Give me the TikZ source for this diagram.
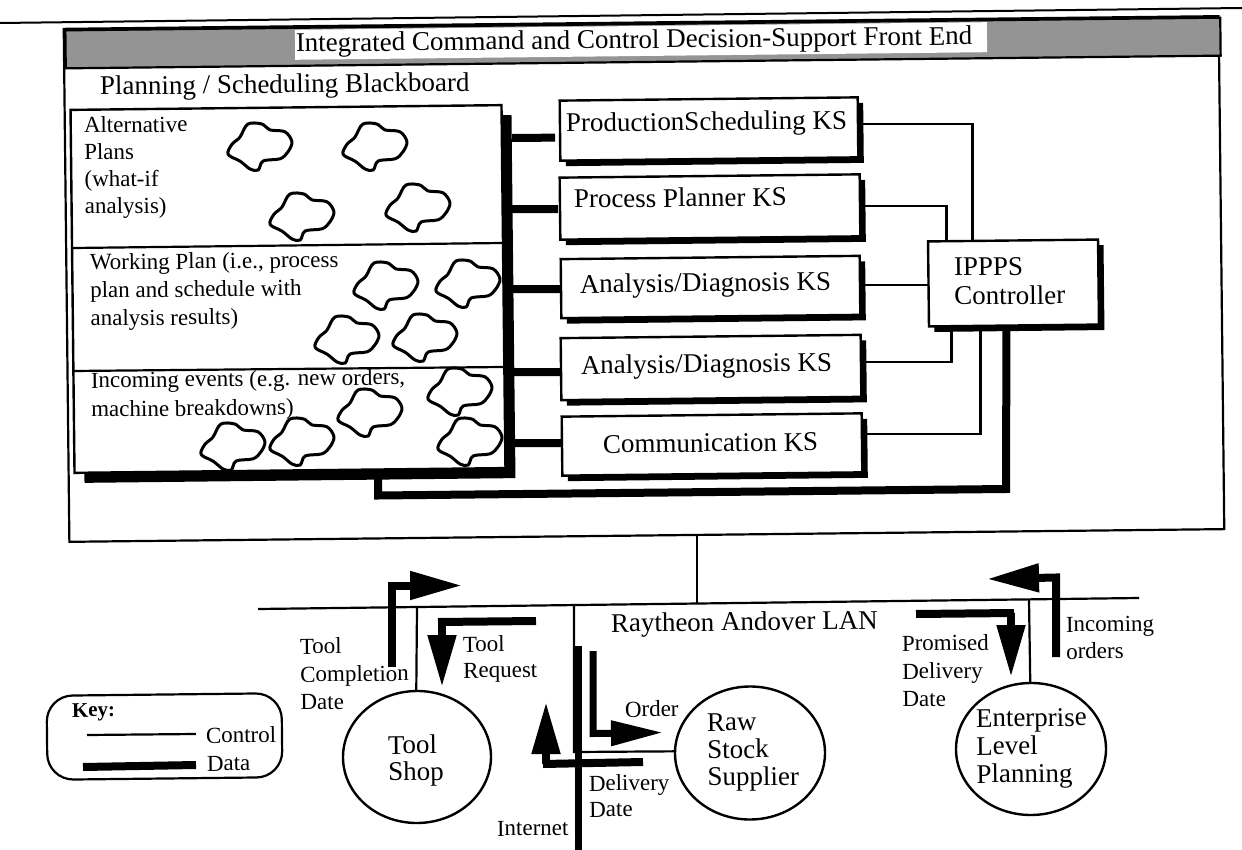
\documentclass[tikz,border=0pt]{standalone}
\usepackage{fontspec}
\setmainfont{Liberation Serif}
\usetikzlibrary{arrows.meta,shapes.geometric,shadows}
\newcommand{\linestack}[1]{\begin{tabular}[t]{@{}l@{}}#1\end{tabular}}
\tikzset{
  every node/.append style={rotate=0.63,inner sep=0pt,outer sep=0pt},
  lbl/.style={anchor=base west,font=\fontsize{23}{28}\selectfont},
  lblbig/.style={anchor=base west,font=\fontsize{27}{28}\selectfont},
  ctl/.style={line width=2.2pt,line join=miter},
  datal/.style={line width=8pt,line join=miter},
  dataarrow/.style={line width=8pt,line join=miter,-{Triangle[length=52pt,width=27pt]}},
  ksbox/.style={draw,fill=white,line width=2.4pt,
    drop shadow={shadow xshift=5.5pt,shadow yshift=-5.5pt,fill=black,opacity=1}},
  bubble/.style={ellipse,draw,line width=2.4pt,fill=white},
  blob/.pic={\draw[line width=3pt,fill=none,line join=round]
    plot[smooth cycle,tension=.55] coordinates{(-12,-23)(2,-23)(10,-17)(25,-15)(32,-5)(28,5)(20,12)(3,14)(-2,23)(-10,22)(-20,14)(-32,7)(-28,-3)(-20,-10)};}
}
\begin{document}
\begin{tikzpicture}[x=1pt,y=-1pt]
\useasboundingbox (0,0) rectangle (1242,850);
\draw[line width=2pt] (0,23) -- (1242,8);
% outer frame and title bar
\node[draw,line width=2.2pt,minimum width=1155pt,minimum height=513pt] (outer) at (644,279) {};
\node[draw,line width=2.2pt,fill=black!42,minimum width=1155pt,minimum height=38pt] (bar) at (643,43) {};
\node[fill=white,minimum width=692pt,minimum height=30pt] (titlebg) at (641,41) {};
\node[lblbig] (title) at (296,52) {Integrated Command and Control Decision-Support Front End};
\node[lblbig] (plan) at (100,95) {Planning / Scheduling Blackboard};
% blackboard
\node[draw,fill=white,line width=2.4pt,minimum width=431pt,minimum height=363pt,
  drop shadow={shadow xshift=10pt,shadow yshift=-10pt,fill=black,opacity=1}] (bb) at (288,289) {};
\draw[ctl] (73,248) -- (503,243);
\draw[ctl] (73,371) -- (504,367);
\node[lbl,font=\fontsize{23}{27}\selectfont] (alt) at (84,133) {\linestack{Alternative\\Plans\\(what-if\\analysis)}};
\node[lbl] (work) at (90,270) {\linestack{Working Plan (i.e., process\\plan and schedule with\\analysis results)}};
\node[lbl,font=\fontsize{23}{29}\selectfont] (inc) at (91,388) {\linestack{Incoming events (e.g. new orders,\\machine breakdowns)}};
\foreach \p in {(260,147),(375,147),(302,217),(418,208),(386,286),(468,284),(347,340),(425,338),(460,392),(370,413),(302,442),(233,447),(470,442)}
  \pic at \p {blob};
% knowledge sources
\node[ksbox,minimum width=298pt,minimum height=60pt] (ps) at (709,129) {};
\node[ksbox,minimum width=300pt,minimum height=62pt] (pp) at (710,207) {};
\node[ksbox,minimum width=299pt,minimum height=59pt] (ad1) at (710.5,287) {};
\node[ksbox,minimum width=300pt,minimum height=62pt] (ad2) at (711,367.5) {};
\node[ksbox,minimum width=300pt,minimum height=59pt] (comm) at (712,444.5) {};
\node[ksbox,minimum width=170pt,minimum height=85pt] (ctrl) at (1013.5,283) {};
\node[lblbig] (pst) at (566,132) {ProductionScheduling KS};
\node[lblbig] (ppt) at (574,208) {Process Planner KS};
\node[lblbig] (ad1t) at (580,293) {Analysis/Diagnosis KS};
\node[lblbig] (ad2t) at (581,374) {Analysis/Diagnosis KS};
\node[lblbig] (commt) at (603,453) {Communication KS};
\node[lblbig,font=\fontsize{27}{29}\selectfont] (ctrlt) at (954,276) {\linestack{IPPPS\\Controller}};
% control connectors
\draw[ctl] ([yshift=3pt]ps.east) -| ([xshift=-40.5pt]ctrl.north);
\draw[ctl] ([yshift=-1pt]pp.east) -| ([xshift=-66.5pt]ctrl.north);
\draw[ctl] ([xshift=3pt]ad1.east) -- (ctrl.west |- ad1.east);
\draw[ctl] ([yshift=4pt]ad2.east) -| ([xshift=-62.5pt]ctrl.south);
\draw[ctl] ([yshift=8.5pt]comm.east) -| ([xshift=-33.5pt]ctrl.south);
% data connectors
\coordinate (s1) at (512,138); \coordinate (s2) at (512,209); \coordinate (s3) at (512,289);
\coordinate (s4) at (512,372); \coordinate (s5) at (512,443);
\draw[datal] (s1) -- ([xshift=-5pt,yshift=-7pt]ps.west);
\draw[datal] (s2) -- ([xshift=-2pt,yshift=-0.5pt]pp.west);
\draw[datal] (s3) -- ([yshift=-0.5pt]ad1.west);
\draw[datal] (s4) -- ([yshift=-3pt]ad2.west);
\draw[datal] (s5) -- ([yshift=3pt]comm.west);
\coordinate (busL) at (378,478);
\draw[datal] (busL) -- (378,495.5) -- (1006,489) -- ([xshift=-7.5pt]ctrl.south);
% LAN
\coordinate (lanL) at (258,609); \coordinate (lanR) at (1139,598);
\draw[ctl] (lanL) -- (lanR);
\draw[ctl] (outer.south -| 697,528) -- (697,603);
% bubbles
\node[bubble,minimum width=148pt,minimum height=132pt] (tool) at (417,757) {};
\node[bubble,minimum width=150pt,minimum height=133pt] (raw) at (750,753) {};
\node[bubble,minimum width=150pt,minimum height=132pt] (ent) at (1031,749) {};
\node[lblbig,font=\fontsize{27}{26}\selectfont] (toolt) at (388,754) {\linestack{Tool\\Shop}};
\node[lblbig,font=\fontsize{27}{27.5}\selectfont] (rawt) at (707,731) {\linestack{Raw\\Stock\\Supplier}};
\node[lblbig,font=\fontsize{27}{28}\selectfont] (entt) at (976,727) {\linestack{Enterprise\\Level\\Planning}};
\draw[ctl] (417,607) -- (tool.north);
\draw[ctl] (1029,600) -- (ent.north);
\draw[ctl] (574,606) -- (574,752) -- ([yshift=2.5pt]raw.west);
\draw[line width=7pt] (578,646) -- (578,850);
% thick flows
\coordinate (tcS) at (392,667);
\draw[dataarrow] (tcS) -- (392,585.5) -- (462,585.5);
\coordinate (trA) at (438,622); \coordinate (trB) at (536,621);
\draw[datal] (trA) -- (trB);
\draw[dataarrow] (442,622) -- (442,687);
\coordinate (orS) at (593,651);
\draw[line width=7pt,line join=miter,-{Triangle[length=52pt,width=24pt]}] (orS) -- (593,733.5) -- (663,732.5);
\coordinate (ddA) at (543,764); \coordinate (ddB) at (643,762);
\draw[datal] (ddA) -- (ddB);
\draw[dataarrow] (546,764) -- (546,702);
\coordinate (ioS) at (1056,657);
\draw[dataarrow] (ioS) -- (1056,577.5) -- (987,579);
\coordinate (pdA) at (916,614); \coordinate (pdB) at (1014,613);
\draw[datal] (pdA) -- (pdB);
\draw[dataarrow] (1011,613) -- (1011,677);
% flow labels
\node[lbl] (tcd) at (300,654) {\linestack{Tool\\Completion\\Date}};
\node[lbl,font=\fontsize{23}{26}\selectfont] (trq) at (463,652) {\linestack{Tool\\Request}};
\node[lbl] (ord) at (625,717) {Order};
\node[lbl,font=\fontsize{23}{26}\selectfont] (del) at (589,791) {\linestack{Delivery\\Date}};
\node[lbl] (net) at (497,836) {Internet};
\node[lblbig] (lan) at (611,632) {Raytheon Andover LAN};
\node[lbl] (pro) at (902,651) {\linestack{Promised\\Delivery\\Date}};
\node[lbl,font=\fontsize{23}{27}\selectfont] (ino) at (1066,632) {\linestack{Incoming\\orders}};
% key
\node[draw,line width=2.2pt,rounded corners=26pt,minimum width=235pt,minimum height=84pt] (key) at (164.5,736.5) {};
\node[lbl,font=\fontsize{21}{25}\selectfont\bfseries] (keyt) at (72,717) {Key:};
\node[lbl,font=\fontsize{23}{28}\selectfont] (keyc) at (206,743) {Control};
\node[lbl,font=\fontsize{23}{28}\selectfont] (keyd) at (207,771) {Data};
\coordinate (kc) at (87,735);
\coordinate (kd) at (83,767);
\draw[ctl] (kc) -- (196,734);
\draw[datal] (kd) -- (196,765);
\end{tikzpicture}
\end{document}
